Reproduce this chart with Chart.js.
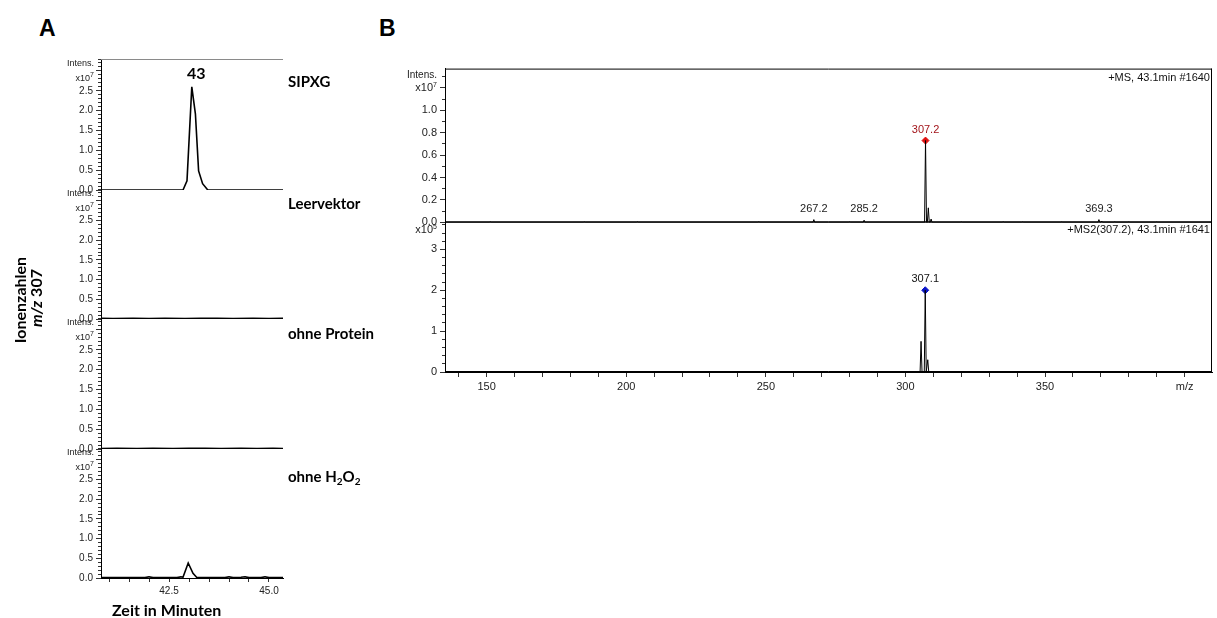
<!DOCTYPE html>
<html>
<head>
<meta charset="utf-8">
<script src="https://cdn.jsdelivr.net/npm/chart.js@4.4.1/dist/chart.umd.min.js"></script>
<style>
  body { margin: 0; background: #fff; }
  #wrap { position: relative; width: 1217px; height: 618px; overflow: hidden; font-family: "Liberation Sans", Arial, sans-serif; }
  canvas, .t { position: absolute; }
  .t { white-space: nowrap; color: #000; line-height: 1; }
  .big { font-family: "Liberation Sans", Arial, sans-serif; font-weight: bold; font-size: 23px; }
  .lbl { font-family: Lato, sans-serif; font-weight: bold; font-size: 15px; }
  .small { font-size: 9px; color: #222; text-align: right; }
  .ms { font-size: 11px; color: #111; }
  sub { font-size: 10px; vertical-align: -3px; }
  sup { font-size: 7px; vertical-align: 4px; }
</style>
</head>
<body>
<div id="wrap">
  <canvas id="a1" width="252" height="149" style="left:41px;top:50px"></canvas>
  <canvas id="a2" width="252" height="148" style="left:41px;top:180px"></canvas>
  <canvas id="a3" width="252" height="149" style="left:41px;top:309px"></canvas>
  <canvas id="a4" width="252" height="163" style="left:41px;top:439px"></canvas>
  <canvas id="b1" width="817" height="173" style="left:400px;top:59px"></canvas>
  <canvas id="b2" width="817" height="184" style="left:400px;top:212px"></canvas>

  <div class="t big" style="left:39px;top:17px">A</div>
  <div class="t big" style="left:379px;top:17px">B</div>

  <div class="t lbl" style="left:187px;top:65px;font-size:16px">43</div>
  <div class="t lbl" style="left:288px;top:74px">SIPXG</div>
  <div class="t lbl" style="left:288px;top:196px">Leervektor</div>
  <div class="t lbl" style="left:288px;top:326px">ohne Protein</div>
  <div class="t lbl" style="left:288px;top:469px">ohne H<sub>2</sub>O<sub>2</sub></div>
  <div class="t lbl" style="left:112px;top:602px;font-size:16px">Zeit in Minuten</div>

  <div class="t lbl" style="left:-30px;top:292px;width:100px;text-align:center;transform:rotate(-90deg);font-size:16px">Ionenzahlen</div>
  <div class="t lbl" style="left:-14px;top:290px;width:100px;text-align:center;transform:rotate(-90deg);font-size:16px"><i>m/z</i> 307</div>

  <div class="t small" style="left:54px;top:59px;width:40px">Intens.</div>
  <div class="t small" style="left:54px;top:71px;width:40px">x10<sup>7</sup></div>
  <div class="t small" style="left:54px;top:189px;width:40px">Intens.</div>
  <div class="t small" style="left:54px;top:201px;width:40px">x10<sup>7</sup></div>
  <div class="t small" style="left:54px;top:318px;width:40px">Intens.</div>
  <div class="t small" style="left:54px;top:330px;width:40px">x10<sup>7</sup></div>
  <div class="t small" style="left:54px;top:448px;width:40px">Intens.</div>
  <div class="t small" style="left:54px;top:460px;width:40px">x10<sup>7</sup></div>

  <div class="t small" style="left:380px;top:70px;width:57px;font-size:10px">Intens.</div>
  <div class="t small" style="left:380px;top:81px;width:57px;font-size:11px">x10<sup>7</sup></div>
  <div class="t small" style="left:380px;top:223px;width:57px;font-size:11px">x10<sup>5</sup></div>
  <div class="t ms" style="left:1000px;top:72px;width:210px;text-align:right">+MS, 43.1min #1640</div>
  <div class="t ms" style="left:1000px;top:224px;width:210px;text-align:right">+MS2(307.2), 43.1min #1641</div>
</div>

<script>
// Panel A: extracted ion chromatograms m/z 307 (x10^7)
const sipxgZeit = [40.8, 42.85, 42.95, 43.07, 43.16, 43.24, 43.34, 43.47, 45.35];
const sipxgIntens = [0, 0, 0.23, 2.6, 1.92, 0.48, 0.16, 0, 0];

const leerZeit = [40.8, 41.1, 41.6, 42.0, 42.4, 42.9, 43.3, 43.7, 44.1, 44.6, 45.0, 45.35];
const leerIntens = [0.02, 0.01, 0.02, 0.01, 0.02, 0.01, 0.02, 0.015, 0.01, 0.02, 0.01, 0.015];

const proteinZeit = [40.8, 41.2, 41.7, 42.1, 42.6, 43.0, 43.4, 43.8, 44.3, 44.7, 45.1, 45.35];
const proteinIntens = [0.01, 0.02, 0.01, 0.02, 0.01, 0.015, 0.02, 0.01, 0.02, 0.01, 0.02, 0.01];

const h2o2Zeit = [40.8, 41.9, 42.0, 42.1, 42.7, 42.8, 42.85, 42.98, 43.1, 43.19, 43.4, 43.9, 44.0, 44.1, 44.3, 44.4, 44.5, 44.8, 44.9, 45.0, 45.35];
const h2o2Intens = [0.01, 0.01, 0.03, 0.01, 0.01, 0.03, 0.02, 0.38, 0.12, 0.02, 0.01, 0.01, 0.03, 0.01, 0.02, 0.03, 0.01, 0.01, 0.03, 0.01, 0.01];

const zeitLabels = [42.5, 45.0];

// Panel B: MS (x10^7) and MS2 (x10^5) spectra
const msMz = [151.3, 185.0, 204.0, 247.5, 267.2, 280.0, 285.2, 307.2, 308.2, 309.2, 320.0, 335.0, 342.0, 356.0, 369.3, 370.3, 375.0, 380.0, 390.0];
const msInt = [0.004, 0.003, 0.004, 0.004, 0.025, 0.003, 0.02, 0.73, 0.13, 0.03, 0.003, 0.004, 0.003, 0.003, 0.025, 0.012, 0.004, 0.003, 0.003];
const msBeschriftet = [267.2, 285.2, 369.3];

const ms2Mz = [305.6, 307.1, 308.0];
const ms2Int = [0.75, 2.0, 0.3];

const mzLabels = [150, 200, 250, 300, 350];

function range(a, b, s) {
  const out = [];
  for (let v = a; v <= b + 1e-9; v += s) out.push({ value: +v.toFixed(3) });
  return out;
}

function sticks(mz, ints, lo, hi) {
  const pts = [{ x: lo, y: 0 }];
  mz.forEach((m, i) => {
    pts.push({ x: m - 0.35, y: 0 }, { x: m, y: ints[i] }, { x: m + 0.35, y: 0 });
  });
  pts.push({ x: hi, y: 0 });
  return pts;
}

Chart.register({
  id: 'frame',
  defaults: { top: false, right: false, bottom: false, color: '#000' },
  afterDraw(chart, args, o) {
    const { ctx, chartArea: a } = chart;
    ctx.save();
    ctx.strokeStyle = o.color;
    ctx.lineWidth = 1;
    ctx.beginPath();
    if (o.top) { ctx.moveTo(a.left, a.top + 0.5); ctx.lineTo(a.right, a.top + 0.5); }
    if (o.right) { ctx.moveTo(a.right - 0.5, a.top); ctx.lineTo(a.right - 0.5, a.bottom); }
    if (o.bottom) { ctx.moveTo(a.left, a.bottom - 0.5); ctx.lineTo(a.right, a.bottom - 0.5); }
    ctx.stroke();
    ctx.restore();
  }
});

Chart.register({
  id: 'peakText',
  defaults: { items: [] },
  afterDatasetsDraw(chart, args, o) {
    const { ctx, scales } = chart;
    ctx.save();
    ctx.font = '11px "Liberation Sans", Arial, sans-serif';
    ctx.textAlign = 'center';
    ctx.textBaseline = 'middle';
    o.items.forEach(it => {
      ctx.fillStyle = it.color;
      ctx.fillText(it.text, scales.x.getPixelForValue(it.x), scales.y.getPixelForValue(it.y) - 11);
    });
    ctx.restore();
  }
});

function yScales(max, majors, minors, fmt, width, fontSize) {
  return {
    y: {
      min: 0, max: max, position: 'left', weight: 1,
      afterBuildTicks: s => { s.ticks = majors; },
      afterFit: s => { s.width = width; },
      ticks: { callback: fmt, color: '#222', padding: 3, autoSkip: false, font: { size: fontSize, family: '"Liberation Sans", Arial' } },
      grid: { drawOnChartArea: false, tickLength: 5, color: '#333' },
      border: { color: '#000' }
    },
    y2: {
      min: 0, max: max, position: 'left', weight: 0,
      afterBuildTicks: s => { s.ticks = minors; },
      afterFit: s => { s.width = 0; },
      ticks: { display: false },
      grid: { drawOnChartArea: false, tickLength: 3, color: '#333' },
      border: { display: false }
    }
  };
}

function chromatogram(id, zeit, intens, showX, frameTop) {
  const scales = yScales(3.3, range(0, 3.0, 0.5), range(0, 3.3, 0.1),
    v => v <= 2.5 ? v.toFixed(1) : '', 60, 10);
  scales.x = {
    type: 'linear', min: 40.8, max: 45.35, display: showX,
    afterBuildTicks: s => { s.ticks = range(41, 45, 0.5); },
    afterFit: s => { s.height = showX ? 24 : 0; },
    ticks: { callback: v => zeitLabels.includes(v) ? v.toFixed(1) : '', autoSkip: false, maxRotation: 0, color: '#222', padding: 3, font: { size: 10, family: '"Liberation Sans", Arial' } },
    grid: { drawOnChartArea: false, tickLength: 4, color: '#333' },
    border: { color: '#000' }
  };
  new Chart(document.getElementById(id), {
    type: 'line',
    data: { datasets: [{ data: zeit.map((t, i) => ({ x: t, y: intens[i] })), borderColor: '#000', borderWidth: 1.6, pointRadius: 0, tension: 0 }] },
    options: {
      responsive: false, animation: false, devicePixelRatio: 1,
      layout: { padding: { top: 8, bottom: showX ? 0 : 8, left: 0, right: 10 } },
      plugins: { legend: { display: false }, tooltip: { enabled: false }, frame: { top: frameTop, color: '#8a8a8a' } },
      scales: scales
    }
  });
}

chromatogram('a1', sipxgZeit, sipxgIntens, false, true);
chromatogram('a2', leerZeit, leerIntens, false, false);
chromatogram('a3', proteinZeit, proteinIntens, false, false);
chromatogram('a4', h2o2Zeit, h2o2Intens, true, false);

function spectrum(id, mz, ints, max, majors, minors, fmt, showX, peak, items) {
  const scales = yScales(max, majors, minors, fmt, 45, 11);
  scales.x = {
    type: 'linear', min: 135.1, max: 409.8, display: showX,
    afterBuildTicks: s => { s.ticks = range(140, 400, 10); },
    afterFit: s => { s.height = showX ? 24 : 0; },
    ticks: { callback: v => v === 400 ? 'm/z' : (mzLabels.includes(v) ? String(v) : ''), autoSkip: false, maxRotation: 0, color: '#222', padding: 3, font: { size: 11, family: '"Liberation Sans", Arial' } },
    grid: { drawOnChartArea: false, tickLength: 5, color: '#333' },
    border: { color: '#000' }
  };
  new Chart(document.getElementById(id), {
    type: 'line',
    data: {
      datasets: [
        { data: sticks(mz, ints, 135.1, 409.8), borderColor: '#000', borderWidth: 1, pointRadius: 0, tension: 0 },
        { data: [{ x: peak.x, y: peak.y }], showLine: false, pointStyle: 'rectRot', pointRadius: 3.5, backgroundColor: peak.color, borderColor: peak.color }
      ]
    },
    options: {
      responsive: false, animation: false, devicePixelRatio: 1,
      layout: { padding: { top: 8, bottom: showX ? 0 : 8, left: 0, right: 4 } },
      plugins: {
        legend: { display: false }, tooltip: { enabled: false },
        frame: { top: true, right: true, bottom: true, color: '#000' },
        peakText: { items: items }
      },
      scales: scales
    }
  });
}

const msItems = msBeschriftet.map(m => ({ x: m, y: msInt[msMz.indexOf(m)], text: m.toFixed(1), color: '#222' }));
msItems.push({ x: 307.2, y: 0.73, text: '307.2', color: '#a3151b' });
spectrum('b1', msMz, msInt, 1.372, range(0, 1.2, 0.2), range(0, 1.3, 0.1),
  v => v <= 1.0 ? v.toFixed(1) : '', false,
  { x: 307.2, y: 0.73, color: '#e01010' }, msItems);

spectrum('b2', ms2Mz, ms2Int, 3.68, range(0, 3, 1), range(0, 3.6, 0.2),
  v => String(Math.round(v)), true,
  { x: 307.1, y: 2.0, color: '#0a14c8' }, [{ x: 307.1, y: 2.0, text: '307.1', color: '#111' }]);
</script>
</body>
</html>
